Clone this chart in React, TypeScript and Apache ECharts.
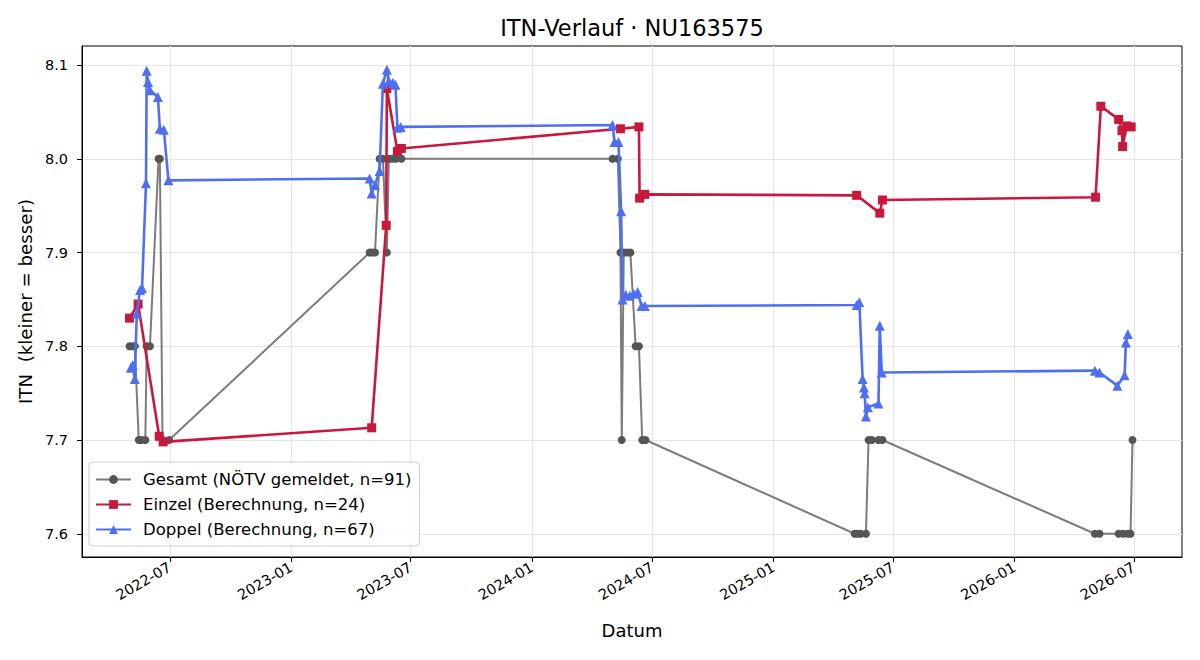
import React, { useEffect, useRef } from "react";
import * as echarts from "echarts";

// ---- Data ----
const gesamtDates = [
  "2022-05-01", "2022-05-05", "2022-05-09", "2022-05-15", "2022-05-19", "2022-05-25", "2022-05-27", "2022-06-01", "2022-06-14", "2022-06-16", "2022-06-20", "2022-06-30",
  "2023-04-30", "2023-05-04", "2023-05-08", "2023-05-15", "2023-05-20", "2023-05-26", "2023-05-29", "2023-06-03", "2023-06-09", "2023-06-17",
  "2024-05-02", "2024-05-10", "2024-05-14", "2024-05-16", "2024-05-19", "2024-05-24", "2024-05-29", "2024-06-06", "2024-06-11", "2024-06-16", "2024-06-21",
  "2025-05-04", "2025-05-08", "2025-05-13", "2025-05-21", "2025-05-25", "2025-05-30", "2025-06-09", "2025-06-15",
  "2026-05-03", "2026-05-10", "2026-06-08", "2026-06-15", "2026-06-22", "2026-06-26", "2026-06-29",
];
const gesamtValues = [
  7.8, 7.8, 7.8, 7.7, 7.7, 7.7, 7.8, 7.8, 8.0, 8.0, 7.7, 7.7,
  7.9, 7.9, 7.9, 8.0, 8.0, 7.9, 8.0, 8.0, 8.0, 8.0,
  8.0, 8.0, 7.9, 7.7, 7.9, 7.9, 7.9, 7.8, 7.8, 7.7, 7.7,
  7.6, 7.6, 7.6, 7.6, 7.7, 7.7, 7.7, 7.7,
  7.6, 7.6, 7.6, 7.6, 7.6, 7.6, 7.7,
];

const einzelDates = [
  "2022-05-01", "2022-05-14", "2022-06-15", "2022-06-21",
  "2023-05-03", "2023-05-25", "2023-05-26", "2023-06-11", "2023-06-17",
  "2024-05-14", "2024-06-11", "2024-06-12", "2024-06-20",
  "2025-05-07", "2025-06-11", "2025-06-15",
  "2026-05-04", "2026-05-12", "2026-06-08", "2026-06-13", "2026-06-14", "2026-06-20", "2026-06-27",
];
const einzelValues = [
  7.83, 7.845, 7.704, 7.698,
  7.713, 7.929, 8.075, 8.008, 8.011,
  8.032, 8.034, 7.958, 7.962,
  7.961, 7.942, 7.956,
  7.959, 8.056, 8.042, 8.03, 8.013, 8.035, 8.034,
];

const doppelDates = [
  "2022-05-03", "2022-05-06", "2022-05-09", "2022-05-12", "2022-05-17", "2022-05-20", "2022-05-26", "2022-05-27", "2022-05-29", "2022-06-01", "2022-06-13", "2022-06-16", "2022-06-22", "2022-06-29",
  "2023-04-30", "2023-05-03", "2023-05-08", "2023-05-15", "2023-05-20", "2023-05-26", "2023-05-29", "2023-06-04", "2023-06-08", "2023-06-11", "2023-06-16",
  "2024-05-02", "2024-05-05", "2024-05-11", "2024-05-15", "2024-05-17", "2024-05-22", "2024-05-28", "2024-06-03", "2024-06-09", "2024-06-15", "2024-06-20",
  "2025-05-07", "2025-05-11", "2025-05-16", "2025-05-18", "2025-05-19", "2025-05-21", "2025-05-24", "2025-06-09", "2025-06-11", "2025-06-14",
  "2026-05-03", "2026-05-10", "2026-06-06", "2026-06-17", "2026-06-19", "2026-06-22",
];
const doppelValues = [
  7.777, 7.78, 7.765, 7.835, 7.86, 7.862, 7.974, 8.094, 8.082, 8.073, 8.066, 8.032, 8.031, 7.977,
  7.979, 7.963, 7.972, 7.987, 8.08, 8.095, 8.083, 8.081, 8.079, 8.033, 8.034,
  8.036, 8.018, 8.018, 7.944, 7.85, 7.855, 7.854, 7.856, 7.858, 7.843, 7.843,
  7.844, 7.847, 7.765, 7.756, 7.75, 7.725, 7.735, 7.739, 7.822, 7.772,
  7.774, 7.772, 7.758, 7.769, 7.804, 7.813,
];

const xTicks = [
  "2022-07-01", "2023-01-01", "2023-07-01", "2024-01-01", "2024-07-01",
  "2025-01-01", "2025-07-01", "2026-01-01", "2026-07-01",
];
const xMinDate = "2022-02-18";
const xMaxDate = "2026-09-12";
const yTicks = [7.6, 7.7, 7.8, 7.9, 8.0, 8.1];

const seriesNames = [
  "Gesamt (NÖTV gemeldet, n=91)",
  "Einzel (Berechnung, n=24)",
  "Doppel (Berechnung, n=67)",
];

const FONT = "DejaVu Sans";

function ts(s: string) {
  const [y, m, d] = s.split("-").map(Number);
  return Date.UTC(y, m - 1, d);
}

function pairs(d: string[], v: number[]) {
  return d.map((x, i) => [ts(x), v[i]]);
}

export default function App() {
  const ref = useRef<HTMLDivElement>(null);
  useEffect(() => {
    if (!ref.current) return;
    const chart = echarts.init(ref.current, undefined, { renderer: "svg" });
    const fmt = (val: number) => {
      const d = new Date(val);
      const m = d.getUTCMonth() + 1;
      return `${d.getUTCFullYear()}-${m < 10 ? "0" + m : m}`;
    };
    const xTickVals = xTicks.map(ts);
    chart.setOption({
      animation: false,
      backgroundColor: "#ffffff",
      textStyle: { fontFamily: FONT },
      graphic: [
        {
          type: "text",
          x: 632,
          y: 28,
          style: {
            text: "ITN-Verlauf · NU163575",
            fontFamily: FONT,
            fontSize: 22.5,
            fill: "#000",
            align: "center",
            verticalAlign: "middle",
          },
        },
      ],
      grid: {
        left: 82,
        right: 18,
        top: 46,
        bottom: 103,
        show: true,
        borderColor: "#000",
        borderWidth: 1,
        backgroundColor: "transparent",
      },
      legend: {
        orient: "vertical",
        left: 89,
        top: 462,
        padding: [9, 8, 8, 6],
        itemWidth: 35,
        itemHeight: 11,
        itemGap: 8,
        backgroundColor: "rgba(255,255,255,0.8)",
        borderColor: "#cccccc",
        borderWidth: 1,
        borderRadius: 4,
        textStyle: {
          fontFamily: FONT,
          fontSize: 16.5,
          lineHeight: 17,
          color: "#000",
          padding: [0, 0, 0, 7],
        },
        data: seriesNames,
      },
      xAxis: {
        type: "value",
        min: ts(xMinDate),
        max: ts(xMaxDate),
        name: "Datum",
        nameLocation: "middle",
        nameGap: 64,
        nameTextStyle: { fontFamily: FONT, fontSize: 18, color: "#000" },
        axisLine: { show: true, onZero: false, lineStyle: { color: "#000", width: 1 } },
        axisTick: { show: true, length: 5, lineStyle: { color: "#000" }, customValues: xTickVals },
        axisLabel: {
          customValues: xTickVals,
          rotate: 30,
          margin: 9,
          fontFamily: FONT,
          fontSize: 14.5,
          color: "#000",
          formatter: (v: number) => fmt(v),
        },
        splitLine: { show: true, lineStyle: { color: "#e5e5e5", width: 1 } },
      },
      yAxis: {
        type: "value",
        min: 7.5752,
        max: 8.1203,
        name: "ITN  (kleiner = besser)",
        nameLocation: "middle",
        nameGap: 45,
        nameRotate: 90,
        nameTextStyle: { fontFamily: FONT, fontSize: 18.2, color: "#000" },
        axisLine: { show: true, onZero: false, lineStyle: { color: "#000", width: 1 } },
        axisTick: { show: true, length: 5, lineStyle: { color: "#000" }, customValues: yTicks },
        axisLabel: {
          customValues: yTicks,
          margin: 14,
          fontFamily: FONT,
          fontSize: 14.5,
          color: "#000",
          formatter: (v: number) => v.toFixed(1),
        },
        splitLine: { show: true, lineStyle: { color: "#e5e5e5", width: 1 } },
      },
      series: [
        {
          name: seriesNames[0],
          type: "line",
          data: pairs(gesamtDates, gesamtValues),
          symbol: "circle",
          symbolSize: 8,
          showAllSymbol: true,
          lineStyle: { color: "#7c7c7c", width: 2 },
          itemStyle: { color: "#555555" },
          z: 2,
        },
        {
          name: seriesNames[1],
          type: "line",
          data: pairs(einzelDates, einzelValues),
          symbol: "rect",
          symbolSize: 9,
          showAllSymbol: true,
          lineStyle: { color: "#c8193c", width: 2.6 },
          itemStyle: { color: "#c8193c" },
          z: 3,
        },
        {
          name: seriesNames[2],
          type: "line",
          data: pairs(doppelDates, doppelValues),
          symbol: "triangle",
          symbolSize: 10,
          showAllSymbol: true,
          lineStyle: { color: "#4f6ff2", width: 2.6 },
          itemStyle: { color: "#4f6ff2" },
          z: 4,
        },
      ],
    });
    return () => chart.dispose();
  }, []);
  return (
    <div
      ref={ref}
      style={{ position: "fixed", left: 0, top: 0, width: 1200, height: 660, background: "#fff" }}
    />
  );
}
